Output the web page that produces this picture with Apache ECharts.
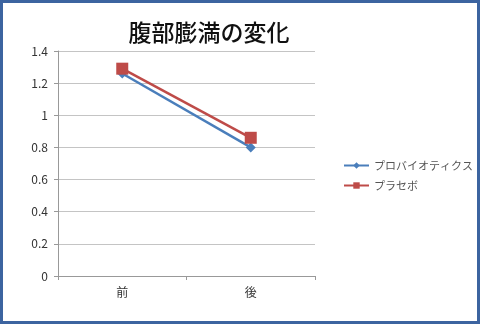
<!DOCTYPE html>
<html>
<head>
<meta charset="utf-8">
<style>
  html, body { margin: 0; padding: 0; background: #fff; }
  #chart { width: 480px; height: 324px; box-sizing: border-box; border: 3px solid #3c64a0; }
</style>
<script src="https://cdn.jsdelivr.net/npm/echarts@6/dist/echarts.min.js"></script>
</head>
<body>
<div id="chart"></div>
<script>
// データ
const categories = ['前', '後'];
const probiotics = [1.26, 0.80];
const placebo = [1.29, 0.86];
const seriesNames = ['プロバイオティクス', 'プラセボ'];

const chart = echarts.init(document.getElementById('chart'));

const font = '"Noto Sans CJK JP", sans-serif';

chart.setOption({
    animation: false,
    backgroundColor: '#fff',
    title: {
        text: '腹部膨満の変化',
        left: 201,
        top: 13,
        textAlign: 'center',
        textStyle: { fontFamily: font, fontSize: 23, fontWeight: 500, color: '#111' }
    },
    legend: {
        orient: 'vertical',
        left: 335,
        top: 152,
        itemGap: 9,
        itemWidth: 25,
        itemHeight: 8,
        textStyle: { fontFamily: font, fontSize: 11, color: '#555' },
        data: seriesNames
    },
    grid: { left: 55, right: 162, top: 48, bottom: 45 },
    xAxis: {
        type: 'category',
        data: categories,
        boundaryGap: true,
        axisLine: { lineStyle: { color: '#999' } },
        axisTick: { show: true, length: 4, lineStyle: { color: '#999' } },
        axisLabel: { fontFamily: font, fontSize: 12, color: '#333', margin: 10 }
    },
    yAxis: {
        type: 'value',
        min: 0,
        max: 1.4,
        interval: 0.2,
        axisLine: { show: true, lineStyle: { color: '#999' } },
        axisTick: { show: true, length: 4, lineStyle: { color: '#999' } },
        axisLabel: { fontFamily: font, fontSize: 12, color: '#333', margin: 10,
            formatter: v => String(Math.round(v * 10) / 10) },
        splitLine: { lineStyle: { color: '#c4c4c4' } }
    },
    series: [
        {
            name: seriesNames[0],
            type: 'line',
            data: probiotics,
            symbol: 'diamond',
            symbolSize: 10,
            lineStyle: { width: 2.5, color: '#4a7ebb' },
            itemStyle: { color: '#4a7ebb' }
        },
        {
            name: seriesNames[1],
            type: 'line',
            data: placebo,
            symbol: 'rect',
            symbolSize: 12,
            lineStyle: { width: 2.5, color: '#be4b48' },
            itemStyle: { color: '#be4b48' }
        }
    ]
});
</script>
</body>
</html>
